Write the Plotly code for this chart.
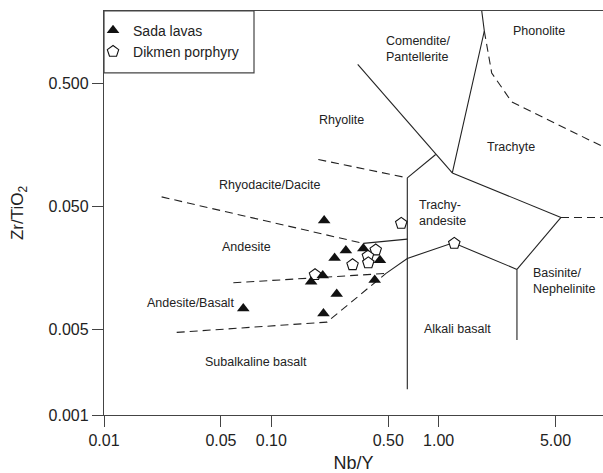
import plotly.graph_objects as go

# ---- Sample data (Nb/Y vs Zr/TiO2) ----
sada_nby = [0.207, 0.279, 0.355, 0.239, 0.446, 0.203, 0.173, 0.415, 0.246, 0.205, 0.068]
sada_zrti = [0.0382, 0.0218, 0.0226, 0.0189, 0.0182, 0.01365, 0.01215, 0.01257, 0.00967, 0.0067, 0.00734]

dikmen_nby = [0.598, 0.421, 0.378, 0.380, 0.306, 0.1825, 1.241]
dikmen_zrti = [0.0362, 0.0220, 0.0196, 0.0173, 0.0167, 0.01385, 0.0249]

# ---- Field boundaries (Winchester & Floyd classification) ----
# solid boundaries: (Nb/Y list, Zr/TiO2 list)
comendite_rhyolite = ([0.3285, 1.2075], [0.714, 0.0933])
comendite_trachyte = ([1.81, 1.876, 1.2075], [1.95, 1.331, 0.0933])
trachyte_trachyandesite = ([1.2075, 5.39], [0.0933, 0.0405])
trachyte_basanite = ([5.39, 2.94], [0.0405, 0.0153])
alkali_basanite = ([2.94, 2.94], [0.0153, 0.00407])
trachyandesite_alkali = ([0.485, 0.650, 1.224, 2.94], [0.01419, 0.01879, 0.02517, 0.0153])
alkali_subalkaline = ([0.650, 0.650], [0.0850, 0.00162])
rhyolite_trachyandesite = ([0.650, 0.961], [0.0850, 0.1317])
andesite_trachyandesite = ([0.355, 0.650], [0.0249, 0.0270])

# dashed boundaries
rhyodacite_andesite = ([0.0221, 0.355], [0.0595, 0.0249])
rhyolite_rhyodacite = ([0.191, 0.650], [0.1199, 0.0850])
andesite_andbasalt = ([0.0593, 0.485], [0.0119, 0.01419])
andbasalt_subalkaline = ([0.0272, 0.2152, 0.485], [0.0047, 0.0057, 0.01419])
phonolite_trachyte = ([1.876, 2.077, 2.735, 9.65], [1.331, 0.607, 0.3525, 0.152])
basanite_trachyte_edge = ([5.39, 10.0], [0.0405, 0.0405])

solid_boundaries = [comendite_rhyolite, comendite_trachyte, trachyte_trachyandesite,
                    trachyte_basanite, alkali_basanite, trachyandesite_alkali,
                    alkali_subalkaline, rhyolite_trachyandesite, andesite_trachyandesite]
dashed_boundaries = [rhyodacite_andesite, rhyolite_rhyodacite, andesite_andbasalt,
                     andbasalt_subalkaline, phonolite_trachyte, basanite_trachyte_edge]

# ---- Axis ticks ----
x_tickvals = [0.01, 0.05, 0.10, 0.50, 1.00, 5.00]
x_ticktext = ["0.01", "0.05", "0.10", "0.50", "1.00", "5.00"]
y_tickvals = [0.001, 0.005, 0.050, 0.500]
y_ticktext = ["0.001", "0.005", "0.050", "0.500"]

# ---- Field names: (text, log10 Nb/Y, log10 Zr/TiO2, anchor) ----
field_labels = [
    ("Comendite/<br>Pantellerite", -0.3246, -0.0187, "left"),
    ("Phonolite", 0.5983, 0.1244, "center"),
    ("Rhyolite", -0.5816, -0.6016, "center"),
    ("Trachyte", 0.4327, -0.8187, "center"),
    ("Rhyodacite/Dacite", -1.0078, -1.1301, "center"),
    ("Trachy-<br>andesite", -0.1309, -1.3537, "left"),
    ("Andesite", -1.1512, -1.6366, "center"),
    ("Andesite/Basalt", -1.4842, -2.0870, "center"),
    ("Subalkaline basalt", -1.0933, -2.5667, "center"),
    ("Alkali basalt", 0.1100, -2.2984, "center"),
    ("Basinite/<br>Nephelinite", 0.5505, -1.9106, "left"),
]

FONT = "Liberation Sans, Arial, sans-serif"
LINE_COLOR = "#222"

fig = go.Figure()

for xs, ys in solid_boundaries:
    fig.add_trace(go.Scatter(x=xs, y=ys, mode="lines", showlegend=False, hoverinfo="skip",
                             line=dict(color=LINE_COLOR, width=1.1)))
for xs, ys in dashed_boundaries:
    fig.add_trace(go.Scatter(x=xs, y=ys, mode="lines", showlegend=False, hoverinfo="skip",
                             line=dict(color=LINE_COLOR, width=1.1, dash="8px,5px")))

fig.add_trace(go.Scatter(
    x=dikmen_nby, y=dikmen_zrti, mode="markers", name="Dikmen porphyry", legendrank=2,
    marker=dict(symbol="pentagon", size=12, color="white", line=dict(color="#111", width=1.1)),
))
fig.add_trace(go.Scatter(
    x=sada_nby, y=sada_zrti, mode="markers", name="Sada lavas", legendrank=1,
    marker=dict(symbol="triangle-up", size=11, color="#111", line=dict(width=0)),
))

for text, lx, ly, anchor in field_labels:
    fig.add_annotation(x=lx, y=ly, xref="x", yref="y", text=text, showarrow=False,
                       xanchor=anchor, yanchor="middle", align=anchor,
                       font=dict(family=FONT, size=12.5, color="#222"))

# Legend frame
fig.add_shape(type="rect", xref="paper", yref="paper", x0=0, x1=0.3006, y0=0.8467, y1=1,
              line=dict(color="#444", width=1.2), fillcolor="rgba(0,0,0,0)")

fig.update_layout(
    width=603, height=473,
    margin=dict(l=104, r=0, t=11, b=58),
    paper_bgcolor="white", plot_bgcolor="white",
    font=dict(family=FONT, color="#222"),
    showlegend=True,
    legend=dict(x=-0.022, y=0.991, xanchor="left", yanchor="top",
                bgcolor="rgba(0,0,0,0)", borderwidth=0,
                font=dict(family=FONT, size=14, color="#222")),
    xaxis=dict(type="log", range=[-2, 0.9827], tickvals=x_tickvals, ticktext=x_ticktext,
               showline=True, linecolor="#444", linewidth=1.3, mirror=True,
               ticks="outside", ticklen=11, tickwidth=1.2, tickcolor="#444",
               showgrid=False, zeroline=False,
               tickfont=dict(family=FONT, size=16, color="#222"),
               title=dict(text="Nb/Y", font=dict(family=FONT, size=18, color="#222"), standoff=10)),
    yaxis=dict(type="log", range=[-3, 0.2872], tickvals=y_tickvals, ticktext=y_ticktext,
               showline=True, linecolor="#444", linewidth=1.3,
               ticks="outside", ticklen=11, tickwidth=1.2, tickcolor="#444",
               showgrid=False, zeroline=False,
               tickfont=dict(family=FONT, size=16, color="#222"),
               title=dict(text="Zr/TiO<sub>2</sub>", font=dict(family=FONT, size=17, color="#222"), standoff=20)),
)

fig.write_html("out.html")
